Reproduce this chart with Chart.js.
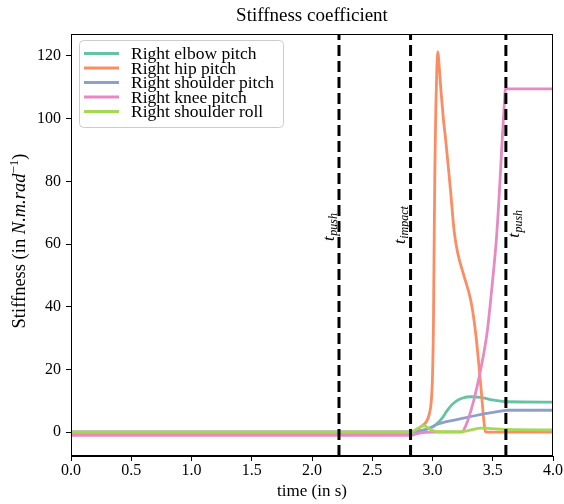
<!DOCTYPE html>
<html><head><meta charset="utf-8">
<script src="https://cdn.jsdelivr.net/npm/chart.js@4.4.0/dist/chart.umd.min.js"></script>
<style>html,body{margin:0;padding:0;background:#fff}</style>
</head><body>
<canvas id="c" width="564" height="504"></canvas>
<script>
// ---- data ----
const seriesNames = ['Right elbow pitch', 'Right hip pitch', 'Right shoulder pitch', 'Right knee pitch', 'Right shoulder roll'];
const seriesColors = ['#66c2a5', '#fc8d62', '#8da0cb', '#e78ac3', '#a6d854'];

const elbowT = [0, 2.82, 2.9, 2.97, 3.03, 3.08, 3.12, 3.16, 3.2, 3.25, 3.32, 3.4, 3.47, 3.55, 3.62, 4.0];
const elbowV = [0, 0, 0.4, 1.2, 2.5, 4.5, 6.8, 8.7, 10.0, 10.9, 11.3, 11.1, 10.5, 10.0, 9.7, 9.6];

const hipT = [0, 2.82, 2.86, 2.905, 2.95, 2.975, 2.99, 3.0, 3.008, 3.014, 3.02, 3.028, 3.036, 3.045, 3.055, 3.07, 3.09, 3.11, 3.13, 3.15, 3.18, 3.21, 3.26, 3.32, 3.36, 3.4, 3.43, 3.44, 4.0];
const hipV = [0, 0, 0.4, 1.8, 3.4, 6, 10, 18, 35, 62, 85, 104, 116, 121.3, 117, 109, 100, 93, 85, 77, 64, 57, 50, 41.6, 31, 15.1, 2.3, 0, 0];

const shoulderPitchT = [0, 2.82, 2.9, 2.99, 3.04, 3.07, 3.2, 3.32, 3.45, 3.59, 3.62, 4.0];
const shoulderPitchV = [0, 0, 0.4, 1.5, 2.5, 2.9, 4.0, 5.0, 6.0, 6.9, 7.0, 7.0];

const kneeT = [0, 2.82, 2.9, 3.0, 3.25, 3.26, 3.29, 3.345, 3.4, 3.454, 3.495, 3.531, 3.556, 3.578, 3.595, 3.605, 4.0];
const kneeV = [-1, -1, -0.2, 0, 0, 0.7, 3.4, 10.5, 20, 32, 46.9, 62, 77.2, 93.1, 104, 109.5, 109.5];

const shoulderRollT = [0, 2.82, 2.87, 2.93, 2.97, 3.0, 3.05, 3.24, 3.32, 3.4, 3.5, 3.62, 4.0];
const shoulderRollV = [0, 0, 1.0, 2.1, 1.2, 0.5, 0.2, 0.2, 0.7, 1.3, 1.1, 0.9, 0.7];

const eventTimes = [2.224, 2.818, 3.609];
const eventLabels = ['push', 'impact', 'push'];

const xTicks = [0, 0.5, 1.0, 1.5, 2.0, 2.5, 3.0, 3.5, 4.0];
const yTicks = [0, 20, 40, 60, 80, 100, 120];
const xRange = [0, 4];
const yRange = [-7.6, 127.0];

const titleText = 'Stiffness coefficient';
const xTitleText = 'time (in s)';

// ---- build ----
const seriesT = [elbowT, hipT, shoulderPitchT, kneeT, shoulderRollT];
const seriesV = [elbowV, hipV, shoulderPitchV, kneeV, shoulderRollV];
const SERIF = '"Liberation Serif", "DejaVu Serif", serif';

const datasets = seriesNames.map((name, i) => ({
  label: name,
  data: seriesT[i].map((t, j) => ({x: t, y: seriesV[i][j]})),
  borderColor: seriesColors[i],
  backgroundColor: seriesColors[i],
  borderWidth: 2.8,
  pointRadius: 0,
  cubicInterpolationMode: 'monotone',
  fill: false,
  order: 10 - i
}));
eventTimes.forEach((t, k) => {
  datasets.push({
    label: 'event' + k,
    isEvent: true,
    data: [{x: t, y: yRange[0]}, {x: t, y: yRange[1]}],
    borderColor: '#000',
    borderWidth: 3,
    borderDash: [11, 5],
    pointRadius: 0,
    fill: false,
    order: 0
  });
});

const decorPlugin = {
  id: 'decor',
  afterDraw(chart) {
    const ctx = chart.ctx;
    const a = chart.chartArea;
    const xs = chart.scales.x, ys = chart.scales.y;
    ctx.save();
    // frame
    ctx.strokeStyle = '#000';
    ctx.lineWidth = 1;
    ctx.strokeRect(Math.round(a.left) + 0.5, Math.round(a.top) + 0.5, Math.round(a.right - a.left) - 1, Math.round(a.bottom - a.top) - 1);

    // title
    ctx.fillStyle = '#000';
    ctx.font = '19px ' + SERIF;
    ctx.textAlign = 'center';
    ctx.textBaseline = 'middle';
    ctx.fillText(titleText, (a.left + a.right) / 2, 16);

    // x title
    ctx.font = '17px ' + SERIF;
    ctx.fillText(xTitleText, (a.left + a.right) / 2, 492);

    // y title
    ctx.save();
    ctx.translate(25, 241);
    ctx.rotate(-Math.PI / 2);
    ctx.textAlign = 'left';
    ctx.textBaseline = 'alphabetic';
    const parts = [
      ['Stiffness (in ', '18.5px ', 0],
      ['N.m.rad', 'italic 18.5px ', 0],
      ['\u22121', '13px ', -7.5],
      [')', '18.5px ', 0]
    ];
    let total = 0;
    parts.forEach(p => { ctx.font = p[1] + SERIF; total += ctx.measureText(p[0]).width; });
    let cx = -total / 2;
    parts.forEach(p => { ctx.font = p[1] + SERIF; ctx.fillText(p[0], cx, p[2]); cx += ctx.measureText(p[0]).width; });
    ctx.restore();

    // event labels
    const dxs = [-5, -6, 13];
    const startY = [61, 60, 62];
    eventTimes.forEach((t, k) => {
      const px = xs.getPixelForValue(t) + dxs[k];
      const py = ys.getPixelForValue(startY[k]);
      ctx.save();
      ctx.translate(px, py);
      ctx.rotate(-Math.PI / 2);
      ctx.textAlign = 'left';
      ctx.textBaseline = 'alphabetic';
      ctx.font = 'italic 17px ' + SERIF;
      ctx.fillText('t', 0, 0);
      const w = ctx.measureText('t').width;
      ctx.font = 'italic 12px ' + SERIF;
      ctx.fillText(eventLabels[k], w + 0.5, 3.5);
      ctx.restore();
    });

    // legend
    const lx = 79, ly = 40, lw = 204, lh = 87;
    ctx.beginPath();
    ctx.roundRect(lx + 0.5, ly + 0.5, lw, lh, 4);
    ctx.fillStyle = 'rgba(255,255,255,0.8)';
    ctx.fill();
    ctx.strokeStyle = '#cccccc';
    ctx.lineWidth = 1;
    ctx.stroke();
    ctx.font = '17.5px ' + SERIF;
    ctx.textAlign = 'left';
    ctx.textBaseline = 'middle';
    seriesNames.forEach((name, i) => {
      const yy = 53.5 + i * 14.5;
      ctx.strokeStyle = seriesColors[i];
      ctx.lineWidth = 2.8;
      ctx.beginPath();
      ctx.moveTo(84, yy);
      ctx.lineTo(119, yy);
      ctx.stroke();
      ctx.fillStyle = '#000';
      ctx.fillText(name, 131, yy + 1);
    });
    ctx.restore();
  }
};

new Chart(document.getElementById('c'), {
  type: 'line',
  data: {datasets},
  options: {
    responsive: false,
    animation: false,
    devicePixelRatio: 1,
    layout: {padding: {top: 34, right: 11, left: 0, bottom: 0}},
    plugins: {legend: {display: false}, title: {display: false}, tooltip: {enabled: false}},
    scales: {
      x: {
        type: 'linear', min: xRange[0], max: xRange[1],
        afterBuildTicks: s => { s.ticks = xTicks.map(v => ({value: v})); },
        afterFit: s => { s.height = 48; },
        grid: {display: true, drawOnChartArea: false, drawTicks: true, tickLength: 5, color: '#000'},
        border: {display: true, color: '#000', width: 1},
        ticks: {color: '#000', font: {family: SERIF, size: 16}, padding: 0, maxRotation: 0, callback: v => v.toFixed(1)}
      },
      y: {
        type: 'linear', min: yRange[0], max: yRange[1],
        afterBuildTicks: s => { s.ticks = yTicks.map(v => ({value: v})); },
        afterFit: s => { s.width = 71; },
        grid: {display: true, drawOnChartArea: false, drawTicks: true, tickLength: 5, color: '#000'},
        border: {display: true, color: '#000', width: 1},
        ticks: {color: '#000', font: {family: SERIF, size: 16}, padding: 5, callback: v => String(v)}
      }
    }
  },
  plugins: [decorPlugin]
});
</script>
</body></html>
